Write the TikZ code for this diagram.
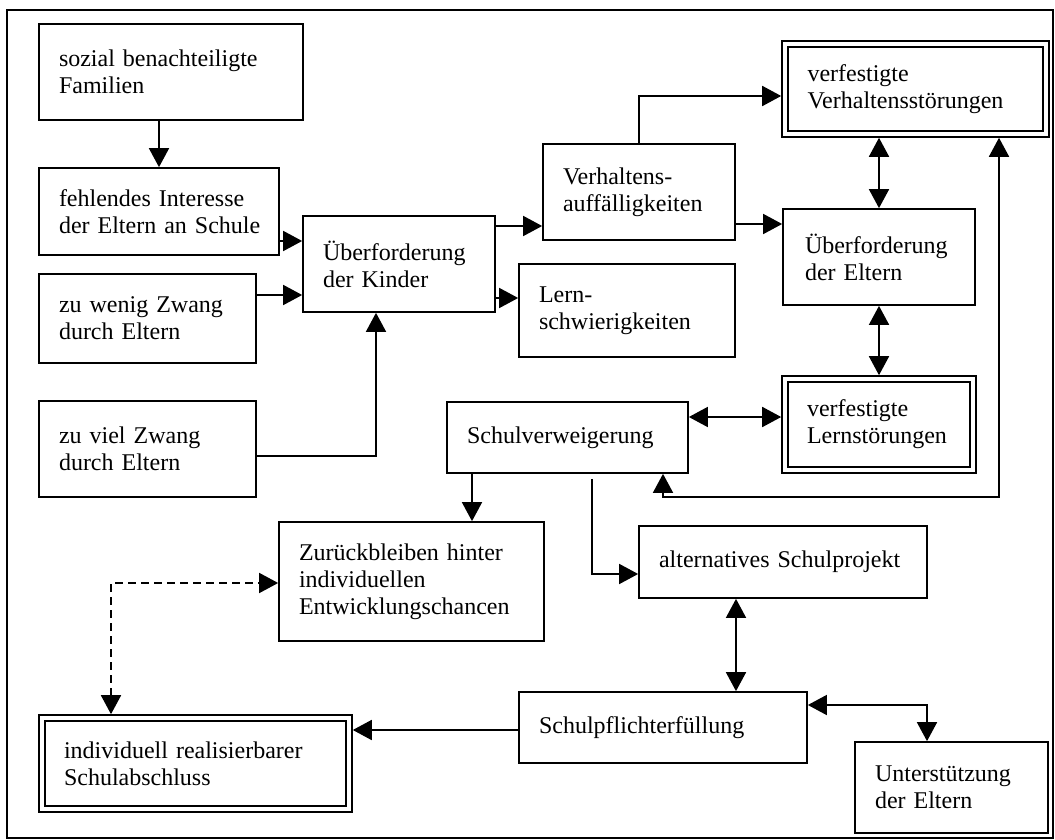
\documentclass[tikz,border=0pt]{standalone}
\usepackage{fontspec}
\setmainfont{Liberation Serif}
\usetikzlibrary{arrows.meta}

\begin{document}
\begin{tikzpicture}[x=0.5pt,y=-0.5pt,
  box/.style={draw, line width=0.85pt, rectangle, inner xsep=10pt, inner ysep=0pt,
    align=left, font=\fontsize{12pt}{13.6pt}\selectfont},
  dbox/.style={box, double, double distance=2.1pt, line width=0.85pt, outer sep=1.9pt},
  tip/.tip={Triangle[length=9.5pt,width=10pt]},
  arr/.style={line width=0.85pt, -tip},
  arrs/.style={line width=0.85pt, tip-tip},
]
\useasboundingbox (0,0) rectangle (1055,840);

% outer frame
\draw[line width=0.9pt] (7,10) rectangle (1053,838);

% left column: causes
\node[box, minimum width=132pt, minimum height=48pt, text width=112pt] (soz) at (171,72)
  {\mbox{sozial benachteiligte}\\Familien};
\node[box, minimum width=120pt, minimum height=43.5pt, text width=100pt] (feh) at (159,211.5)
  {\mbox{fehlendes Interesse}\\\mbox{der Eltern an Schule}};
\node[box, minimum width=108.5pt, minimum height=44.5pt, text width=88.5pt] (wen) at (147.5,318.5)
  {\mbox{zu wenig Zwang}\\\mbox{durch Eltern}};
\node[box, minimum width=108.5pt, minimum height=48pt, text width=88.5pt] (viel) at (147.5,449)
  {\mbox{zu viel Zwang}\\\mbox{durch Eltern}};

% middle
\node[box, minimum width=96pt, minimum height=48pt, text width=76pt] (kind) at (399,264)
  {Überforderung\\\mbox{der Kinder}};
\node[box, minimum width=96pt, minimum height=48pt, text width=76pt] (verh) at (639,192)
  {Verhaltens-\\auffälligkeiten};
\node[box, minimum width=108pt, minimum height=46.5pt, text width=88pt] (lern) at (627,310.5)
  {Lern-\\schwierigkeiten};

% right column
\node[dbox, minimum width=130.5pt, minimum height=45pt, text width=108pt, inner xsep=11.25pt] (vst) at (915.5,89)
  {verfestigte\\Verhaltensstörungen};
\node[box, minimum width=96pt, minimum height=48pt, text width=74pt, inner xsep=11pt] (elt) at (879,257)
  {Überforderung\\\mbox{der Eltern}};
\node[dbox, minimum width=94pt, minimum height=45.5pt, text width=72pt, inner xsep=11pt] (lst) at (879,424.5)
  {verfestigte\\Lernstörungen};

% lower part
\node[box, minimum width=120.5pt, minimum height=35.5pt, text width=100.5pt] (sv) at (567.5,437.5)
  {Schulverweigerung};
\node[box, minimum width=132.5pt, minimum height=59.5pt, text width=112.5pt] (zur) at (411.5,581.5)
  {\mbox{Zurückbleiben hinter}\\individuellen\\Entwicklungschancen};
\node[box, minimum width=144pt, minimum height=36pt, text width=124pt] (alt) at (783,562)
  {\mbox{alternatives Schulprojekt}};
\node[box, minimum width=144pt, minimum height=35.5pt, text width=124pt] (spf) at (663,727.5)
  {Schulpflichterfüllung};
\node[box, minimum width=96.5pt, minimum height=45.5pt, text width=76.5pt] (unt) at (951.5,787.5)
  {Unterstützung\\\mbox{der Eltern}};
\node[dbox, minimum width=153.5pt, minimum height=45.5pt, text width=131.5pt, inner xsep=11pt] (ind) at (195.5,763.5)
  {\mbox{individuell realisierbarer}\\Schulabschluss};

% connectors
\draw[arr] (soz.south -| feh.north) -- (feh.north);
\draw[arr] (feh.east |- 0,241) -- (kind.west |- 0,241);
\draw[arr] (wen.east |- 0,295) -- (kind.west |- 0,295);
\draw[arr] (viel.east |- 0,456) -| (kind.south -| 376,0);
\draw[arr] (kind.east |- 0,226) -- (verh.west |- 0,226);
\draw[arr] (kind.east |- 0,298) -- (lern.west |- 0,298);
\draw[arr] (verh.north) |- (vst.west |- 0,96);
\draw[arr] (verh.east |- 0,224) -- (elt.west |- 0,224);
\draw[arrs] (vst.south -| elt.north) -- (elt.north);
\draw[arrs] (elt.south) -- (lst.north);
\draw[arrs] (sv.east |- 0,417) -- (lst.west |- 0,417);
\coordinate (loop) at (999,497);
\draw[arrs] (sv.south -| 663,0) |- (loop) -- (vst.south -| loop);
\draw[arr] (sv.south -| 472,0) -- (zur.north -| 472,0);
\draw[arr] (sv.south -| 592,0) ++(0,5) |- (alt.west |- 0,574);
\draw[arrs] (alt.south -| 736,0) -- (spf.north -| 736,0);
\draw[arrs] (spf.east |- 0,705) -| (unt.north -| 927,0);
\draw[arr] (spf.west |- 0,730) -- (ind.east |- 0,730);
\draw[arrs, dash pattern=on 4pt off 2.5pt] (ind.north -| 111,0) |- (zur.west |- 0,583);

\end{tikzpicture}
\end{document}
